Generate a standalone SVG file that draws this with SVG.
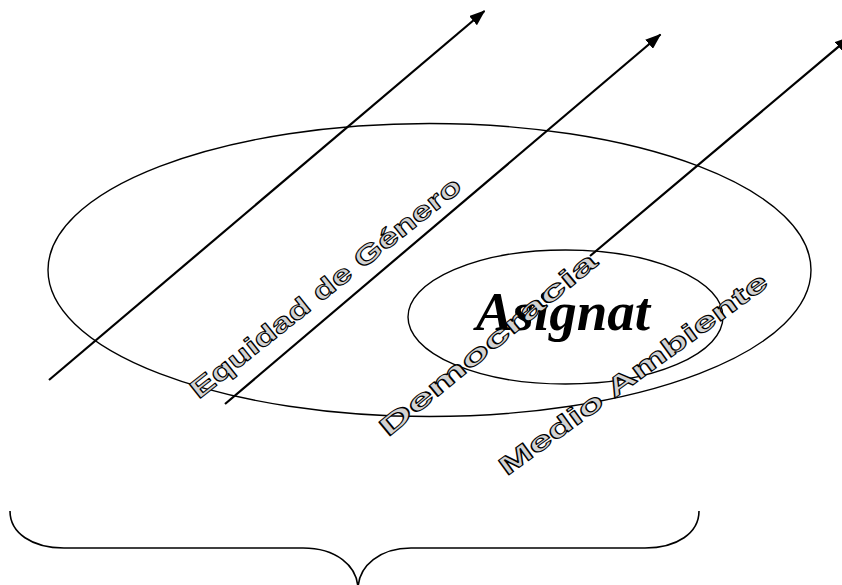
<svg xmlns="http://www.w3.org/2000/svg" width="842" height="585" viewBox="0 0 842 585">
<style>
.ell{fill:none;stroke:#000;stroke-width:1.4}
.arr{fill:none;stroke:#000;stroke-width:2.2}
.wa{font-family:"Liberation Sans",Arial,sans-serif;font-weight:bold;font-size:26px;fill:#d2d2d2;stroke:#000;stroke-width:1;stroke-linejoin:round}
.title{font-family:"Liberation Serif","Times New Roman",serif;font-weight:bold;font-style:italic;font-size:55px;fill:#000}
</style>
<defs>
<marker id="ah" viewBox="0 0 16 12" refX="15" refY="6" markerWidth="16" markerHeight="12" markerUnits="userSpaceOnUse" orient="auto">
<path d="M0,0 L16,6 L0,12 z" fill="#000"/>
</marker>
</defs>
<rect width="842" height="585" fill="#fff"/>
<g id="outer">
<ellipse class="ell" cx="429.5" cy="270" rx="381.5" ry="146.5"/>
</g>
<g id="inner">
<ellipse class="ell" cx="565.5" cy="317" rx="157.5" ry="67"/>
<text class="title" x="563" y="330" text-anchor="middle">Asignat</text>
</g>
<g id="connectors">
<line class="arr" x1="49" y1="380" x2="484.5" y2="11" marker-end="url(#ah)"/>
<line class="arr" x1="225" y1="404" x2="660.5" y2="34.5" marker-end="url(#ah)"/>
<line class="arr" x1="590" y1="256" x2="850" y2="37" marker-end="url(#ah)"/>
</g>
<g id="brace">
<path d="M10,511 C10,533 32,548 64,548 L303,548 C335,548 358,565 358,590 M358,590 C358,565 381,548 411,548 L645,548 C677,548 699,533 699,511" fill="none" stroke="#000" stroke-width="1.6"/>
</g>
<g id="label-equidad">
<text class="wa" transform="translate(331,294.5) rotate(-38.5)" text-anchor="middle" textLength="338" lengthAdjust="spacingAndGlyphs">Equidad de Género</text>
</g>
<g id="label-democracia">
<text class="wa" transform="translate(493.5,351) rotate(-39.4)" text-anchor="middle" textLength="273" lengthAdjust="spacingAndGlyphs">Democracia</text>
</g>
<g id="label-medio">
<text class="wa" transform="translate(638.3,381) rotate(-36)" text-anchor="middle" textLength="325" lengthAdjust="spacingAndGlyphs">Medio Ambiente</text>
</g>
</svg>
